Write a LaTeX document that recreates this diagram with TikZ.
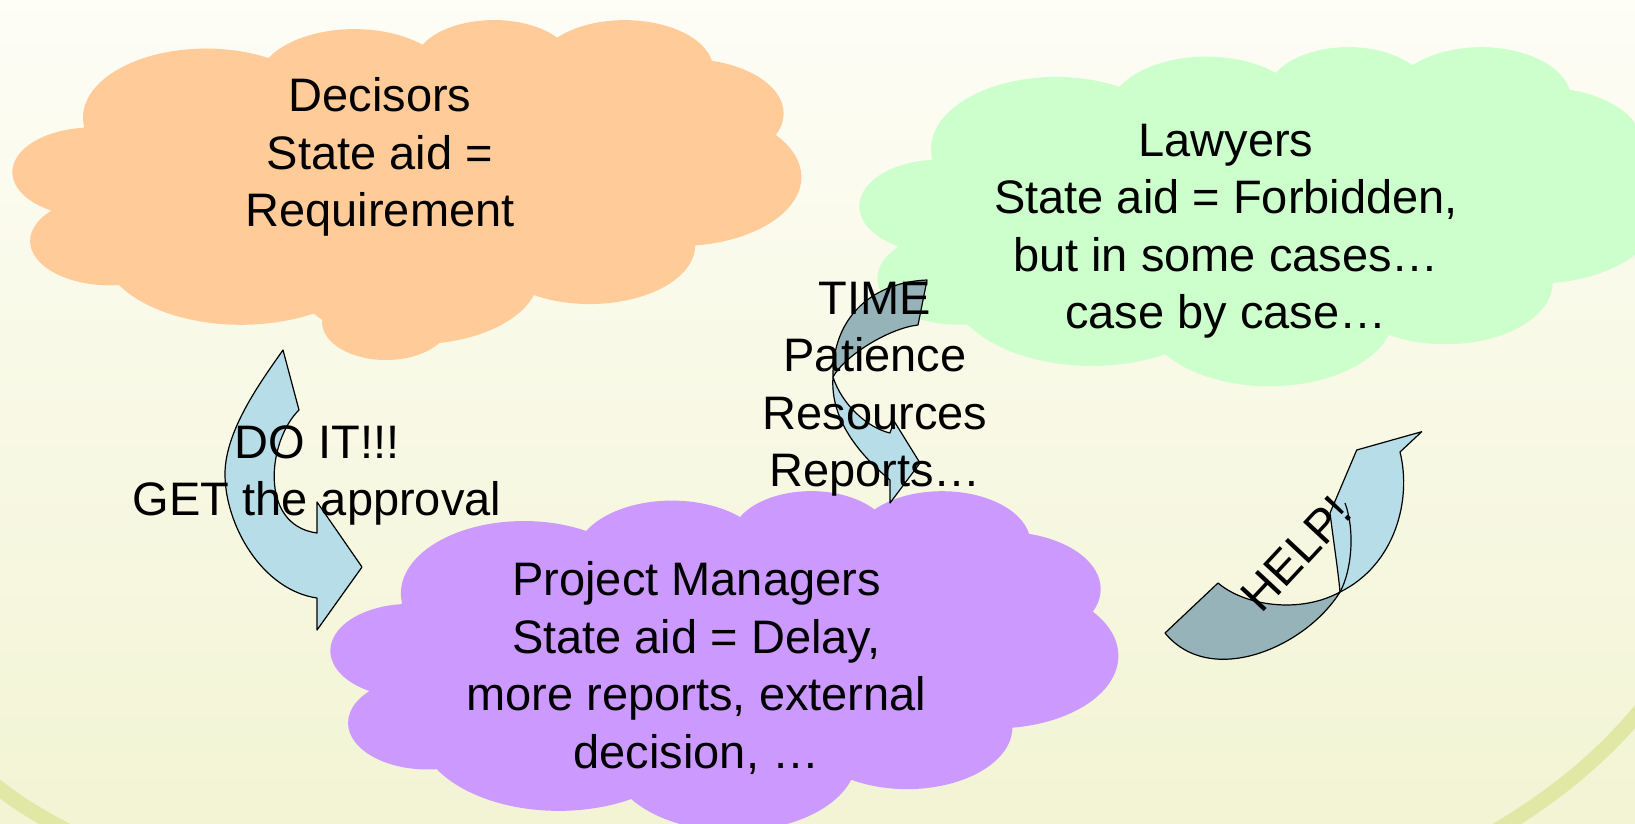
\documentclass[tikz,border=0pt]{standalone}
\usepackage{fontspec}
\setmainfont{Liberation Sans}
\definecolor{bgtop}{RGB}{254,253,246}
\definecolor{bgbot}{RGB}{242,244,212}
\definecolor{swoosh}{RGB}{225,231,165}
\definecolor{decfill}{RGB}{255,204,153}
\definecolor{lawfill}{RGB}{204,255,204}
\definecolor{pmfill}{RGB}{204,153,255}
\definecolor{arrowlight}{RGB}{183,222,232}
\definecolor{arrowdark}{RGB}{149,179,184}
% OOXML-style elliptical arc: name, wR, hR, start (visual deg), sweep (deg)
\newcommand\ooarc[5]{%
  \pgfmathsetmacro\tmpS{atan2((#2)*sin(#4),(#3)*cos(#4))}%
  \pgfmathsetmacro\tmpE{atan2((#2)*sin((#4)+(#5)),(#3)*cos((#4)+(#5)))}%
  \pgfmathsetmacro\tmpD{Mod(\tmpE-\tmpS,360)}%
  \expandafter\xdef\csname oo#1\endcsname{arc[start angle=\tmpS, delta angle=\tmpD, x radius=#2, y radius=#3]}%
}
\ooarc{A}{67.53}{91.90}{-190.48748}{123.78053}
\ooarc{B}{53.33}{72.67}{-144.10238}{89.94523}
\ooarc{C}{43.65}{59.45}{-145.80792}{99.72302}
\ooarc{D}{48.57}{65.95}{-130.98607}{117.24173}
\ooarc{E}{53.33}{72.73}{-78.70888}{109.02692}
\ooarc{F}{67.75}{92.20}{-46.26725}{130.26900}
\ooarc{G}{57.85}{78.67}{0.62502}{114.03333}
\ooarc{H}{67.52}{92.15}{22.45160}{115.17255}
\ooarc{I}{77.20}{105.43}{66.24263}{75.71102}
\ooarc{J}{43.60}{59.18}{-274.94208}{146.73557}
\ooarc{K}{43.45}{59.45}{-246.82850}{152.51885}
\newcommand\cloudpath{(39,143.70) \ooA \ooB \ooC \ooD \ooE \ooF \ooG \ooH \ooI \ooJ \ooK -- cycle}
\tikzset{
  txt/.style={align=center, anchor=north, inner sep=0pt, text=black,
    font=\fontsize{47}{57.5}\selectfont},
  arrowfront/.style={fill=arrowlight, draw=black, line width=1.2pt, line join=round},
  arrowback/.style={fill=arrowdark, draw=black, line width=1.2pt, line join=round},
}
\begin{document}
\begin{tikzpicture}[x=1pt, y=-1pt]
\useasboundingbox (0,0) rectangle (1635,823);
\clip (0,0) rectangle (1635,823);
% background
\fill[top color=bgtop, bottom color=bgbot] (0,0) rectangle (1635,823);
\draw[swoosh, line width=15pt] (-30,762) .. controls (200,1010) and (1550,1150) .. (1720,560);
% clouds
\begin{scope}[shift={(13,19)}, xscale=1.8241, yscale=0.75]
  \fill[decfill] \cloudpath;
\end{scope}
\fill[decfill] (386,322) ellipse[x radius=64, y radius=38];
\begin{scope}[shift={(860,46)}, xscale=1.8519, yscale=0.7847]
  \fill[lawfill] \cloudpath;
\end{scope}
\begin{scope}[shift={(331,490)}, xscale=1.8218, yscale=0.787]
  \fill[pmfill] \cloudpath;
\end{scope}
% arrow 1 (DO IT)
\coordinate (a1A) at (283,350);
\coordinate (a1B) at (299,410);
\coordinate (a1C) at (317,533);
\coordinate (a1D) at (317,502);
\coordinate (a1E) at (362,567);
\coordinate (a1F) at (317,630);
\coordinate (a1G) at (317,598);
\coordinate (a1L) at (225,474);
\draw[arrowfront] (a1A) -- (a1B) .. controls (268,440) and (258,525) .. (a1C) -- (a1D) -- (a1E) -- (a1F) -- (a1G)
  .. controls (262,590) and (225,525) .. (a1L) .. controls (225,430) and (262,380) .. cycle;
% arrow 2 (TIME)
\coordinate (a2T1) at (927,280);
\coordinate (a2T2) at (918,325);
\coordinate (a2X) at (833,377);
\coordinate (a2Go) at (890,480);
\coordinate (a2Fb) at (890,503);
\coordinate (a2Tip) at (920,463);
\coordinate (a2Ft) at (894,421);
\coordinate (a2Gi) at (890,433);
\draw[arrowback] (a2T1) .. controls (875,282) and (832,315) .. (a2X) .. controls (845,355) and (890,328) .. (a2T2) -- cycle;
\draw[arrowfront] (a2X) .. controls (830,420) and (860,455) .. (a2Go) -- (a2Fb) -- (a2Tip) -- (a2Ft) -- (a2Gi)
  .. controls (868,428) and (842,405) .. cycle;
% arrow 3 (HELP!)
\coordinate (a3P1) at (1165,633);
\coordinate (a3P2) at (1218,583);
\coordinate (a3X) at (1340,592);
\coordinate (a3R) at (1400,452);
\coordinate (a3T) at (1421.7,431.7);
\coordinate (a3L) at (1356.7,450);
\coordinate (a3M) at (1330,513);
\coordinate (a3N) at (1345,503);
\draw[arrowback] (a3P1) -- (a3P2) .. controls (1245,606) and (1300,614) .. (a3X) .. controls (1305,648) and (1210,688) .. cycle;
\draw[arrowfront] (a3X) .. controls (1395,565) and (1412,500) .. (a3R) -- (a3T) -- (a3L) -- (a3M) .. controls (1334,545) and (1338,570) .. cycle;
\draw[black, line width=1.2pt] (a3N) .. controls (1355,530) and (1352,570) .. (a3X);
% texts
\node[txt] (dec) at (380,71.5) {\strut Decisors\\State aid =\\Requirement};
\node[txt] (law) at (1226,116) {\strut Lawyers\\State aid = Forbidden,\\but in some cases…\\case by case…};
\node[txt] (pm) at (696.5,555.5) {\strut Project Managers\\State aid = Delay,\\more reports, external\\decision, …};
\node[txt] (time) at (875,273.75) {\strut TIME\\Patience\\Resources\\Reports…};
\node[txt] (doit) at (317,417.75) {\strut DO IT!!!\\GET the approval};
\node[font=\fontsize{47}{57.5}\selectfont, inner sep=0pt, rotate=47, anchor=base] (help) at (1308,565) {HELP!};
\end{tikzpicture}
\end{document}
